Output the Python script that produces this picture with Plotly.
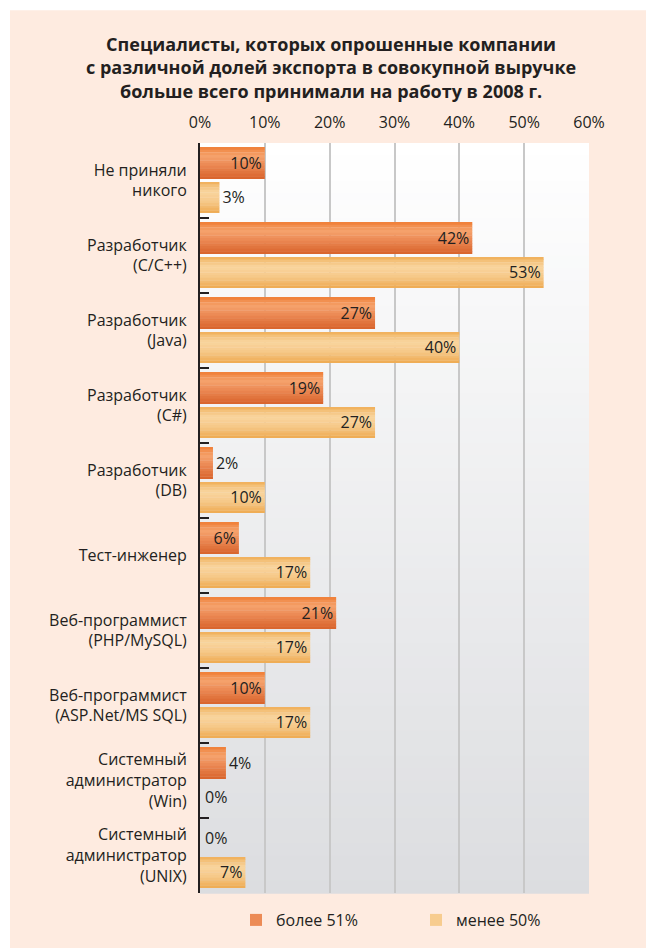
import plotly.graph_objects as go

# ---------------- data ----------------
categories = [
    "Не приняли<br>никого",
    "Разработчик<br>(C/C++)",
    "Разработчик<br>(Java)",
    "Разработчик<br>(C#)",
    "Разработчик<br>(DB)",
    "Тест-инженер",
    "Веб-программист<br>(PHP/MySQL)",
    "Веб-программист<br>(ASP.Net/MS SQL)",
    "Системный<br>администратор<br>(Win)",
    "Системный<br>администратор<br>(UNIX)",
]
series_names = ["более 51%", "менее 50%"]
values_more51 = [10, 42, 27, 19, 2, 6, 21, 10, 4, 0]
values_less50 = [3, 53, 40, 27, 10, 17, 17, 17, 0, 7]
x_tick_values = [0, 10, 20, 30, 40, 50, 60]
x_tick_labels = ["0%", "10%", "20%", "30%", "40%", "50%", "60%"]
title_lines = [
    "Специалисты, которых опрошенные компании",
    "с различной долей экспорта в совокупной выручке",
    "больше всего принимали на работу в 2008 г.",
]

# ---------------- style ----------------
FONT = "Open Sans"
TXT = "#231f20"
FS = 16
W, H = 646, 948
ML, MR, MT, MB = 200, 57, 143, 54
PW, PH = W - ML - MR, H - MT - MB

orange_stops = [(0.0, "#ee7a30"), (0.10, "#f28d4c"), (0.28, "#f5a26c"),
                (0.55, "#ec8a55"), (1.0, "#d8622a")]
light_stops = [(0.0, "#efab52"), (0.12, "#f4c078"), (0.32, "#f9d59e"),
               (0.62, "#f6c98a"), (1.0, "#eeaa50")]


def hex2rgb(h):
    h = h.lstrip("#")
    return tuple(int(h[i:i + 2], 16) for i in (0, 2, 4))


def interp(stops, t):
    for (t0, c0), (t1, c1) in zip(stops[:-1], stops[1:]):
        if t0 <= t <= t1:
            f = (t - t0) / (t1 - t0) if t1 > t0 else 0
            a, b = hex2rgb(c0), hex2rgb(c1)
            return "rgb(%d,%d,%d)" % tuple(round(a[k] + (b[k] - a[k]) * f) for k in range(3))
    return stops[-1][1]


fig = go.Figure()

N = 12
series = [
    (series_names[0], values_more51, -0.447, 0.427, orange_stops),
    (series_names[1], values_less50, 0.020, 0.413, light_stops),
]

annotations = []
for name, vals, off, wid, stops in series:
    step = wid / N
    for i in range(N):
        t = (i + 0.5) / N
        fig.add_trace(go.Bar(
            x=vals, y=categories, orientation="h",
            offset=off + i * step,
            width=step + (0.004 if i < N - 1 else 0),
            marker=dict(color=interp(stops, t), line=dict(width=0)),
            name=name, legendgroup=name,
            showlegend=(i == N // 2),
            hoverinfo="skip",
        ))
    # transparent trace carrying the value labels
    fig.add_trace(go.Bar(
        x=vals, y=categories, orientation="h",
        offset=off, width=wid,
        marker=dict(color="rgba(0,0,0,0)", line=dict(width=0)),
        text=[f"{v}%" for v in vals],
        textposition="auto", insidetextanchor="end",
        textfont=dict(family=FONT, size=FS, color=TXT),
        constraintext="none", cliponaxis=False,
        name=name, legendgroup=name, showlegend=False,
        hovertemplate="%{y}: %{x}%<extra>" + name + "</extra>",
    ))
    # plotly draws no text for zero-length bars: label them explicitly
    for k, v in enumerate(vals):
        if v == 0:
            annotations.append(dict(
                text=f"{v}%", xref="x", yref="y", x=v, y=k + off + wid / 2,
                xanchor="left", yanchor="middle", xshift=3, showarrow=False,
                font=dict(family=FONT, size=FS, color=TXT)))

# ---------------- background shapes ----------------
shapes = []
# peach panel
shapes.append(dict(type="rect", xref="paper", yref="paper", layer="below",
                   x0=(10 - ML) / PW, x1=(W + 5 - ML) / PW,
                   y0=(H - MB - (H + 5)) / PH, y1=(H - MB - 10) / PH,
                   fillcolor="#feebe0", line=dict(width=0)))
# plot area vertical gradient (white -> light grey)
NB = 60
top_c, bot_c = hex2rgb("#ffffff"), hex2rgb("#dcdde0")
for i in range(NB):
    f = (i + 0.5) / NB
    col = "rgb(%d,%d,%d)" % tuple(round(top_c[k] + (bot_c[k] - top_c[k]) * f) for k in range(3))
    shapes.append(dict(type="rect", xref="paper", yref="paper", layer="below",
                       x0=0, x1=1, y0=1 - (i + 1) / NB - 0.001, y1=1 - i / NB,
                       fillcolor=col, line=dict(width=0)))

# ---------------- title ----------------
annotations.append(dict(
    text="<br>".join(title_lines), xref="paper", yref="paper",
    x=(331 - ML) / PW, y=(H - MB - 67) / PH, xanchor="center", yanchor="middle",
    align="center", showarrow=False,
    font=dict(family=FONT, size=18, color=TXT, weight=700)))

fig.update_layout(
    width=W, height=H,
    margin=dict(l=ML, r=MR, t=MT, b=MB, pad=0),
    paper_bgcolor="#ffffff", plot_bgcolor="rgba(0,0,0,0)",
    barmode="overlay",
    font=dict(family=FONT, size=FS, color=TXT),
    shapes=shapes, annotations=annotations,
    showlegend=True,
    legend=dict(orientation="h", x=(236 - ML) / PW, xanchor="left",
                y=(H - MB - 920) / PH, yanchor="middle",
                font=dict(family=FONT, size=FS, color=TXT),
                bgcolor="rgba(0,0,0,0)", entrywidth=135, traceorder="normal"),
    xaxis=dict(side="top", range=[0, 60], tickvals=x_tick_values, ticktext=x_tick_labels,
               showgrid=True, gridcolor="#c8c8c8", gridwidth=1.5,
               zeroline=False, showline=False, ticks="",
               tickfont=dict(family=FONT, size=FS, color=TXT), ticklabelstandoff=11,
               fixedrange=True),
    yaxis=dict(type="category", categoryorder="array", categoryarray=categories,
               autorange="reversed", showgrid=False, zeroline=False,
               showline=True, linecolor=TXT, linewidth=2,
               ticks="inside", tickson="boundaries", ticklen=9, tickwidth=1.5, tickcolor=TXT,
               tickfont=dict(family=FONT, size=FS, color=TXT), ticklabelstandoff=8,
               fixedrange=True),
)

fig.write_html("out.html",
               config={"displayModeBar": False},
               post_script="document.body.style.margin='0px';document.body.style.overflow='hidden';")
